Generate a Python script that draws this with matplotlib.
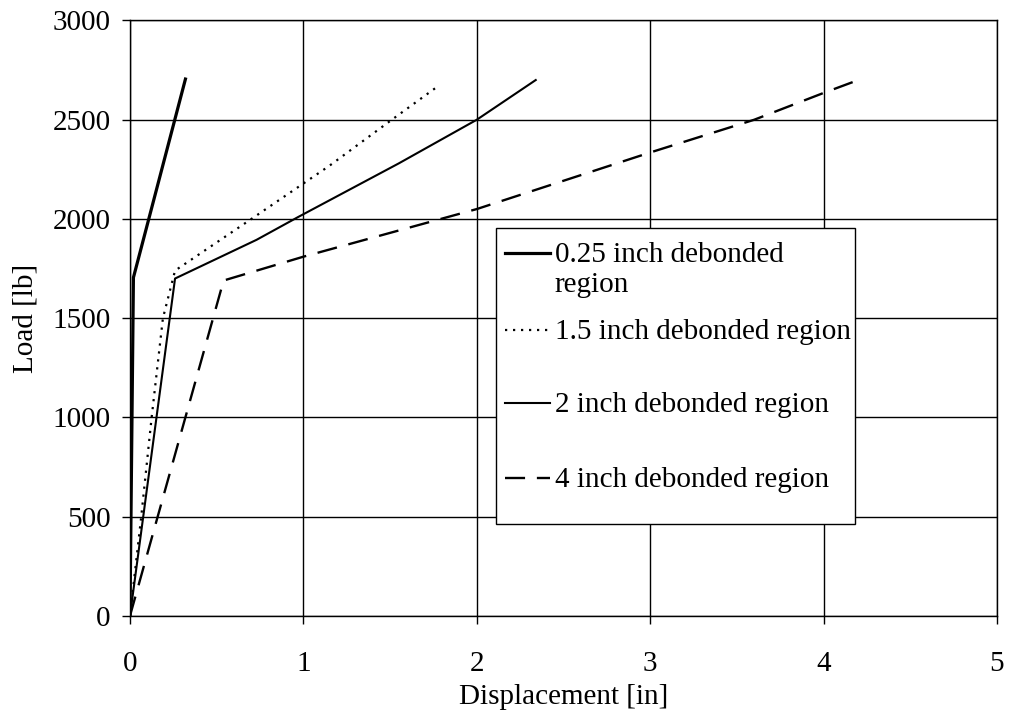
import matplotlib
matplotlib.use("Agg")
import matplotlib.pyplot as plt
from matplotlib.patches import Rectangle
from matplotlib.lines import Line2D

plt.rcParams['font.family'] = ['Liberation Serif', 'DejaVu Serif']
plt.rcParams['font.size'] = 21

# 0.25 inch debonded region
x_025 = [0.0, 0.02, 0.32]
y_025 = [0, 1705, 2705]

# 1.5 inch debonded region
x_15 = [0.0, 0.065, 0.125, 0.19, 0.26, 0.70, 1.15, 1.51, 1.77]
y_15 = [0, 500, 1000, 1500, 1740, 2000, 2268, 2500, 2665]

# 2 inch debonded region
x_2 = [0.0, 0.26, 0.73, 0.97, 1.55, 2.0, 2.34]
y_2 = [0, 1700, 1895, 2010, 2280, 2500, 2700]

# 4 inch debonded region
x_4 = [0.0, 0.54, 1.0, 2.0, 3.0, 3.6, 4.0, 4.2]
y_4 = [0, 1690, 1810, 2050, 2335, 2500, 2635, 2700]

labels = ["0.25 inch debonded\nregion", "1.5 inch debonded region",
          "2 inch debonded region", "4 inch debonded region"]

fig = plt.figure(figsize=(10.09, 7.14), dpi=100)
ax = fig.add_axes([0.1288, 0.1373, 0.8593, 0.834])

styles = [dict(ls='-', lw=2.3),
          dict(ls=(0, (1, 2.6)), lw=1.6),
          dict(ls='-', lw=1.5),
          dict(ls=(0, (8.5, 5)), lw=1.7)]

series = [(x_025, y_025), (x_15, y_15), (x_2, y_2), (x_4, y_4)]
for (xs, ys), st in zip(series, styles):
    ax.plot(xs, ys, color='black', linestyle=st['ls'], lw=st['lw'])

ax.set_xlim(0, 5)
ax.set_ylim(0, 3000)
ax.set_xticks(range(0, 6))
ax.set_yticks(range(0, 3001, 500))
ax.grid(True, color='black', lw=1.0)
ax.set_axisbelow(True)
for s in ax.spines.values():
    s.set_linewidth(1.0)
ax.tick_params(direction='out', length=6, width=1.0, pad=8)
ax.tick_params(axis='x', pad=19)

ax.set_xlabel("Displacement [in]", labelpad=5)
ax.set_ylabel("Load [lb]", labelpad=10)

# legend drawn Excel style: box, key lines and top-aligned text
box = Rectangle((0.422, 0.1545), 0.414, 0.4975, transform=ax.transAxes,
                facecolor='white', edgecolor='black', lw=1.0, zorder=4)
ax.add_patch(box)
entry_y = [0.6096, 0.4803, 0.3577, 0.2317]
for lab, st, yy in zip(labels, styles, entry_y):
    ax.add_line(Line2D([0.4325, 0.4844], [yy, yy], transform=ax.transAxes,
                       color='black', linestyle=st['ls'], lw=st['lw'],
                       zorder=5, clip_on=False))
    ax.text(0.490, yy + 0.018, lab, transform=ax.transAxes, va='top',
            ha='left', linespacing=1.2, zorder=5)

plt.savefig("out.png", dpi=100)
